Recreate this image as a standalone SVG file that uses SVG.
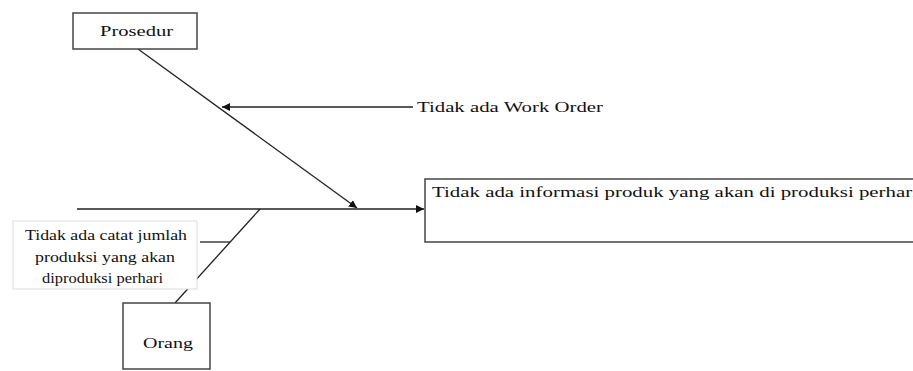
<svg xmlns="http://www.w3.org/2000/svg" width="913" height="371" viewBox="0 0 913 371">
<style>
.box{fill:#fff;stroke:#444;stroke-width:1.5}
.faint{fill:#fff;stroke:#ddd;stroke-width:1}
.ln{stroke:#222;stroke-width:1.3;fill:none}
.t{font-family:"Liberation Serif","Times New Roman",serif;font-size:15px;fill:#111}
</style>
<defs>
<marker id="ah" viewBox="0 0 10 10" refX="10" refY="5" markerWidth="8" markerHeight="8" markerUnits="userSpaceOnUse" orient="auto">
<path d="M0,0 L10,5 L0,10 z" fill="#111"/>
</marker>
</defs>
<rect width="913" height="371" fill="#fff"/>
<g id="connectors">
<line class="ln" x1="77" y1="209" x2="424" y2="209" marker-end="url(#ah)"/>
<line class="ln" x1="138" y1="49" x2="357" y2="208" marker-end="url(#ah)"/>
<line class="ln" x1="413" y1="107" x2="222" y2="107" marker-end="url(#ah)"/>
<line class="ln" x1="260" y1="209" x2="175" y2="303"/>
<line class="ln" x1="200" y1="242" x2="230" y2="242"/>
</g>
<g id="prosedur">
<rect class="box" x="73" y="13" width="124" height="36"/>
<text class="t" x="100" y="36" textLength="73" lengthAdjust="spacingAndGlyphs">Prosedur</text>
</g>
<g id="work-order">
<text class="t" x="417" y="112" textLength="186" lengthAdjust="spacingAndGlyphs">Tidak ada Work Order</text>
</g>
<g id="effect">
<rect class="box" x="425" y="179" width="500" height="63"/>
<text class="t" x="432" y="197" font-size="16" textLength="486" lengthAdjust="spacingAndGlyphs">Tidak ada informasi produk yang akan di produksi perhari</text>
</g>
<g id="cause-orang">
<rect class="faint" x="13" y="221" width="184" height="68"/>
<text class="t" x="25" y="240" textLength="162" lengthAdjust="spacingAndGlyphs">Tidak ada catat jumlah</text>
<text class="t" x="35" y="262" textLength="140" lengthAdjust="spacingAndGlyphs">produksi yang akan</text>
<text class="t" x="42" y="283" textLength="121" lengthAdjust="spacingAndGlyphs">diproduksi perhari</text>
</g>
<g id="orang">
<rect class="box" x="123" y="303" width="87" height="66"/>
<text class="t" x="143" y="348" textLength="50" lengthAdjust="spacingAndGlyphs">Orang</text>
</g>
</svg>
